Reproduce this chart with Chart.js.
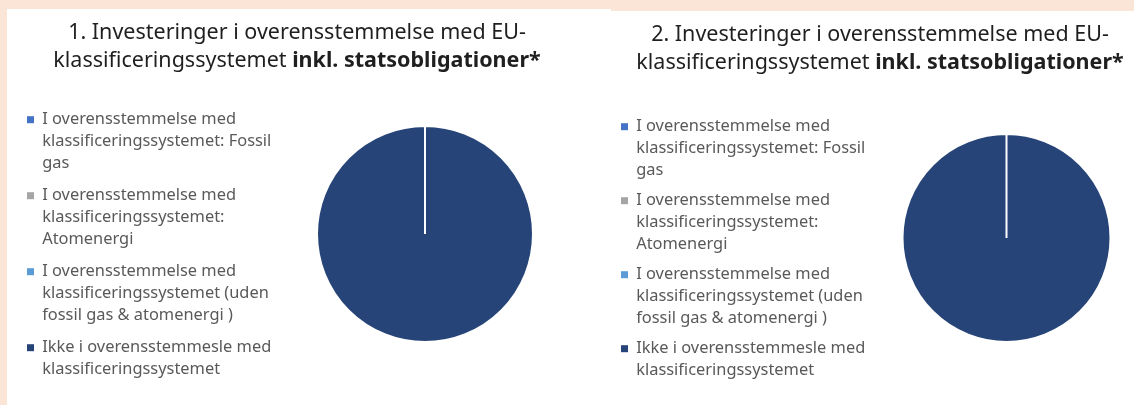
<!DOCTYPE html>
<html>
<head>
<meta charset="utf-8">
<script src="https://cdn.jsdelivr.net/npm/chart.js@4/dist/chart.umd.min.js"></script>
<style>
  html, body { margin: 0; padding: 0; }
  body { width: 1134px; height: 405px; overflow: hidden; background: #FBE5D6; position: relative; font-family: "Noto Sans", sans-serif; }
  .panel { position: absolute; background: #fff; }
  #p1 { left: 7px; top: 9px; width: 604px; height: 396px; }
  #p2 { left: 611px; top: 11px; width: 523px; height: 394px; }
  .title { position: absolute; text-align: center; font-size: 21.5px; line-height: 28px; color: #1f1f1f; z-index: 2; white-space: nowrap; }
  .title b { font-weight: 700; }
  #t1 { left: 0px; width: 594px; top: 17px; }
  #t2 { left: 611px; width: 538px; top: 19px; }
  canvas { position: absolute; }
  #c1 { left: 17px; top: 69px; }
  #c2 { left: 613px; top: 73px; }
</style>
</head>
<body>
<div class="panel" id="p1"></div>
<div class="panel" id="p2"></div>
<div class="title" id="t1">1. Investeringer i overensstemmelse med EU-<br>klassificeringssystemet <b>inkl. statsobligationer*</b></div>
<div class="title" id="t2">2. Investeringer i overensstemmelse med EU-<br>klassificeringssystemet <b>inkl. statsobligationer*</b></div>
<canvas id="c1" width="554" height="330"></canvas>
<canvas id="c2" width="525" height="330"></canvas>
<script>
// kategorier (legend er flere linjer)
const categories = [
  ['I overensstemmelse med', 'klassificeringssystemet: Fossil', 'gas'],
  ['I overensstemmelse med', 'klassificeringssystemet:', 'Atomenergi'],
  ['I overensstemmelse med', 'klassificeringssystemet (uden', 'fossil gas & atomenergi )'],
  ['Ikke i overensstemmesle med', 'klassificeringssystemet']
];
// andel i procent
const values1 = [0, 0, 0, 100];
const values2 = [0, 0, 0, 100];

const sliceColors = ['#4472C4', '#A5A5A5', '#5B9BD5', '#264478'];

function drawPie(id, values, radius, gap) {
  new Chart(document.getElementById(id), {
    type: 'pie',
    data: {
      labels: categories,
      datasets: [{
        data: values,
        backgroundColor: sliceColors,
        borderColor: '#ffffff',
        borderWidth: 2,
        radius: radius
      }]
    },
    options: {
      responsive: false,
      animation: false,
      plugins: {
        tooltip: { enabled: false },
        legend: {
          position: 'left',
          align: 'center',
          maxWidth: 262,
          title: {
            display: true,
            text: '',
            font: { size: 7, lineHeight: 1 },
            padding: { top: 20, bottom: 0 }
          },
          labels: {
            boxWidth: 7,
            boxHeight: 7,
            padding: gap,
            color: '#595959',
            font: { family: 'Noto Sans', size: 16.4, lineHeight: 22 / 16.4 },
            generateLabels: chart => categories.map((text, i) => ({
              text: text,
              fillStyle: sliceColors[i],
              strokeStyle: sliceColors[i],
              lineWidth: 0,
              fontColor: '#595959',
              hidden: false,
              index: i
            }))
          }
        }
      }
    }
  });
}

drawPie('c1', values1, 108, 10);
drawPie('c2', values2, 104, 8);
</script>
</body>
</html>
